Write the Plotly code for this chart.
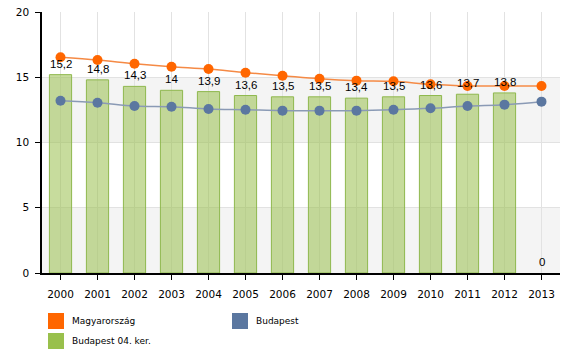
import plotly.graph_objects as go

years = ["2000", "2001", "2002", "2003", "2004", "2005", "2006",
         "2007", "2008", "2009", "2010", "2011", "2012", "2013"]
kerulet = [15.2, 14.8, 14.3, 14.0, 13.9, 13.6, 13.5, 13.5, 13.4, 13.5, 13.6, 13.7, 13.8, 0]
magyarorszag = [16.53, 16.32, 16.04, 15.81, 15.63, 15.35, 15.12, 14.89, 14.74, 14.69, 14.46, 14.33, 14.33, 14.33]
budapest = [13.2, 13.05, 12.8, 12.74, 12.57, 12.51, 12.44, 12.44, 12.44, 12.51, 12.62, 12.8, 12.9, 13.13]
y_ticks = [0, 5, 10, 15, 20]

names = ["Magyarország", "Budapest", "Budapest 04. ker."]
colors = ["#ff6600", "#5b77a0", "#99c04c"]

fig = go.Figure()
fig.add_trace(go.Bar(x=years, y=kerulet, name=names[2],
                     marker=dict(color="rgba(153,192,76,0.55)",
                                 line=dict(color="#8fb84e",
                                           width=[1 if v else 0 for v in kerulet])),
                     showlegend=False))
fig.add_trace(go.Scatter(x=years, y=magyarorszag, name=names[0], mode="lines+markers",
                         line=dict(color="#f58a45", width=1.5, shape="spline"),
                         marker=dict(color="#ff6600", size=10), showlegend=False))
fig.add_trace(go.Scatter(x=years, y=budapest, name=names[1], mode="lines+markers",
                         line=dict(color="#8a9ab5", width=1.5, shape="spline"),
                         marker=dict(color="#5b77a0", size=10), showlegend=False))

# bar value labels (on top of everything); category index used as x
for i, v in enumerate(kerulet):
    fig.add_annotation(x=i, y=v, text=f"{v:g}".replace(".", ","), showarrow=False,
                       xref="x", yref="y", yanchor="bottom", yshift=3,
                       font=dict(family="Liberation Sans", size=11.5, color="#000"))

# alternating bands
for lo, hi in [(0, 5), (10, 15)]:
    fig.add_shape(type="rect", xref="paper", yref="y", x0=0, x1=1, y0=lo, y1=hi,
                  fillcolor="#f4f4f4", line=dict(width=0), layer="below")

# manual legend
leg = [(names[0], colors[0], 48, 313), (names[1], colors[1], 232, 313), (names[2], colors[2], 48, 333)]
for name, col, x, y in leg:
    fig.add_shape(type="rect", xref="paper", yref="paper",
                  x0=(x - 42) / 518, x1=(x + 16 - 42) / 518,
                  y0=(273 - y - 16) / 261, y1=(273 - y) / 261,
                  fillcolor=col, line=dict(width=0))
    fig.add_annotation(xref="paper", yref="paper", x=(x + 22 - 42) / 518, y=(273 - y - 8) / 261,
                       text=name, showarrow=False, xanchor="left", yanchor="middle",
                       font=dict(family="DejaVu Sans", size=9, color="#000"))

fig.update_layout(
    width=580, height=362,
    margin=dict(l=42, r=20, t=12, b=89, autoexpand=False),
    paper_bgcolor="white", plot_bgcolor="white",
    bargap=0.4, showlegend=False,
    font=dict(family="DejaVu Sans", size=10.5, color="#000"),
    xaxis=dict(type="category", range=[-0.5, 13.5], showgrid=True, gridcolor="#e2e2e2",
               showline=True, linecolor="#000", linewidth=1.5, ticks="outside",
               ticklen=5, tickcolor="#000", fixedrange=True, automargin=False,
               ticklabelstandoff=6),
    yaxis=dict(range=[0, 20], tickvals=y_ticks, showgrid=True, gridcolor="#e2e2e2",
               showline=True, linecolor="#000", linewidth=1.5, ticks="outside",
               ticklen=5, tickcolor="#000", zeroline=False, ticklabelstandoff=4,
               automargin=False, fixedrange=True),
)

fig.write_html("out.html", config={"displayModeBar": False},
               post_script="document.body.style.margin='0';")
